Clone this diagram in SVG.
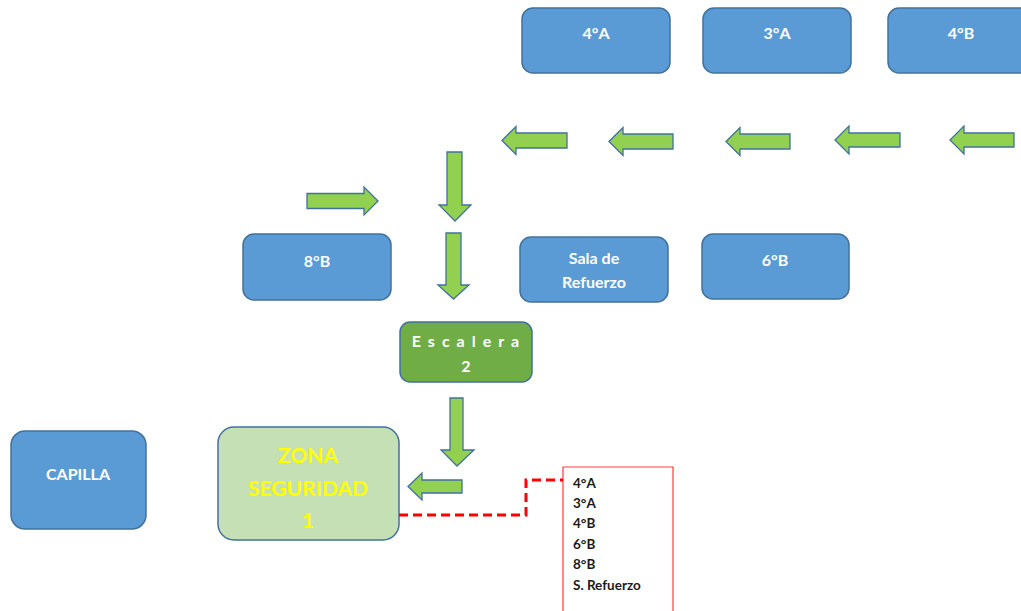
<svg xmlns="http://www.w3.org/2000/svg" width="1021" height="611" viewBox="0 0 1021 611">
  <style>
    .room { fill: #5B9BD5; stroke: #41719C; stroke-width: 1.5; }
    .room-label { fill: #FFFFFF; font-family: Lato, "Liberation Sans", sans-serif; font-weight: bold; font-size: 16px; text-anchor: middle; }
    .arrow { fill: #92D050; stroke: #41719C; stroke-width: 1.3; stroke-linejoin: miter; }
    .stair { fill: #70AD47; stroke: #41719C; stroke-width: 1.5; }
    .zone { fill: #C5E0B4; stroke: #41719C; stroke-width: 1.5; }
    .zone-label { fill: #FFFF00; font-family: Lato, "Liberation Sans", sans-serif; font-weight: bold; font-size: 21px; text-anchor: middle; }
    .leader { fill: none; stroke: #FF0000; stroke-width: 3; stroke-dasharray: 9 5; }
    .list-box { fill: #FFFFFF; stroke: #FF3B3B; stroke-width: 1.2; }
    .list-item { fill: #1A1A1A; font-family: Lato, "Liberation Sans", sans-serif; font-weight: bold; font-size: 13.5px; }
  </style>

  <rect width="1021" height="611" fill="#FFFFFF"/>

  <!-- classrooms, top row -->
  <g id="room-4a">
    <rect class="room" x="522" y="8" width="148" height="65" rx="11"/>
    <text class="room-label" x="596" y="39">4°A</text>
  </g>
  <g id="room-3a">
    <rect class="room" x="703" y="8" width="148" height="65" rx="11"/>
    <text class="room-label" x="777" y="39">3°A</text>
  </g>
  <g id="room-4b">
    <rect class="room" x="888" y="8" width="160" height="65" rx="11"/>
    <text class="room-label" x="961" y="39">4°B</text>
  </g>

  <!-- middle row -->
  <g id="room-8b">
    <rect class="room" x="243" y="234" width="148" height="66" rx="11"/>
    <text class="room-label" x="317" y="267">8°B</text>
  </g>
  <g id="sala-refuerzo">
    <rect class="room" x="520" y="237" width="148" height="65" rx="11"/>
    <text class="room-label" x="594" y="264">Sala de</text>
    <text class="room-label" x="594" y="288">Refuerzo</text>
  </g>
  <g id="room-6b">
    <rect class="room" x="702" y="234" width="147" height="65" rx="11"/>
    <text class="room-label" x="775" y="266">6°B</text>
  </g>

  <!-- stairs -->
  <g id="escalera-2">
    <rect class="stair" x="400" y="322" width="132" height="60" rx="10"/>
    <text class="room-label" x="469" y="347" font-size="14" letter-spacing="7">Escalera</text>
    <text class="room-label" x="466" y="372" font-size="15">2</text>
  </g>

  <!-- chapel -->
  <g id="capilla">
    <rect class="room" x="11" y="431" width="135" height="98" rx="14"/>
    <text class="room-label" x="78" y="480">CAPILLA</text>
  </g>

  <!-- safety zone -->
  <g id="zona-seguridad-1">
    <rect class="zone" x="218" y="427" width="181" height="113" rx="16"/>
    <text class="zone-label" x="308" y="463">ZONA</text>
    <text class="zone-label" x="308" y="496">SEGURIDAD</text>
    <text class="zone-label" x="308" y="528">1</text>
  </g>

  <!-- list of groups assigned to the zone -->
  <g id="lista-grupos">
    <path class="list-box" d="M563 615 L563 467 L673 467 L673 615"/>
    <text class="list-item" x="573" y="488">4°A</text>
    <text class="list-item" x="573" y="508">3°A</text>
    <text class="list-item" x="573" y="528">4°B</text>
    <text class="list-item" x="573" y="549">6°B</text>
    <text class="list-item" x="573" y="569">8°B</text>
    <text class="list-item" x="573" y="590">S. Refuerzo</text>
  </g>

  <!-- evacuation route arrows and leader line -->
  <g id="connectors">
    <!-- corridor, heading left -->
    <path class="arrow" d="M502 140.5 L516 126.5 L516 133 L567 133 L567 148 L516 148 L516 154.5 Z"/>
    <path class="arrow" d="M609 141.5 L623 127.5 L623 134 L673 134 L673 149 L623 149 L623 155.5 Z"/>
    <path class="arrow" d="M726 141.5 L740 127.5 L740 134 L790 134 L790 149 L740 149 L740 155.5 Z"/>
    <path class="arrow" d="M835 140 L849 126 L849 133 L900 133 L900 147 L849 147 L849 154 Z"/>
    <path class="arrow" d="M950 140 L964 126 L964 133 L1014 133 L1014 147 L964 147 L964 154 Z"/>

    <!-- from 8°B, heading right -->
    <path class="arrow" d="M378 201 L364 187 L364 193.5 L307 193.5 L307 208.5 L364 208.5 L364 215 Z"/>

    <!-- down to the stairs -->
    <path class="arrow" d="M447 152 L462 152 L462 205 L471 205 L455 221 L439 205 L447 205 Z"/>
    <path class="arrow" d="M446 233 L461 233 L461 285 L469 285 L453.5 299 L438 285 L446 285 Z"/>

    <!-- from the stairs to the zone -->
    <path class="arrow" d="M450 398 L463 398 L463 450 L474 450 L457 466 L441 450 L450 450 Z"/>
    <path class="arrow" d="M408 486.5 L422 473 L422 480 L462 480 L462 493 L422 493 L422 500 Z"/>

    <!-- leader from zone to its list -->
    <path class="leader" d="M399 515 L526 515 L526 480 L563 480"/>
  </g>
</svg>
